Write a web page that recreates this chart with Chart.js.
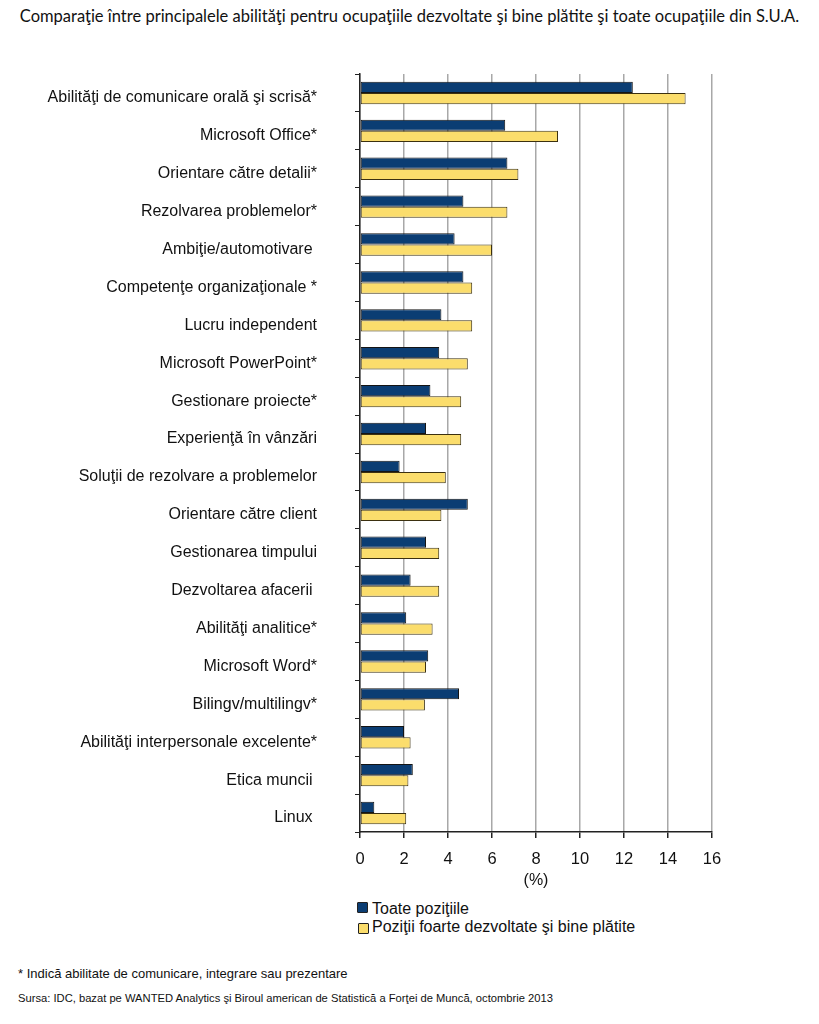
<!DOCTYPE html>
<html lang="ro">
<head>
<meta charset="utf-8">
<title>Abilităţi</title>
<script src="https://cdn.jsdelivr.net/npm/chart.js@4"></script>
<style>
    html, body { margin: 0; padding: 0; background: #fff; }
    body { width: 819px; height: 1024px; position: relative; overflow: hidden; font-family: "Liberation Sans", Arial, sans-serif; color: #111; }
    #title { position: absolute; left: 0; width: 819px; top: 6px; text-align: center; font-family: Lato, "Open Sans", sans-serif; font-size: 16.5px; color: #111; }
    #chartBox { position: absolute; left: 0; top: 0; width: 819px; height: 900px; }
    .legend-row { position: absolute; font-size: 16px; white-space: nowrap; }
    .swatch { position: absolute; width: 9px; height: 9px; border: 1px solid #222; border-radius: 1px; }
    .note { position: absolute; left: 18px; white-space: nowrap; }
</style>
</head>
<body>
<div id="title">Comparaţie între principalele abilităţi pentru ocupaţiile dezvoltate şi bine plătite şi toate ocupaţiile din S.U.A.</div>
<div id="chartBox"><canvas id="skillsChart" width="819" height="900"></canvas></div>

<div class="swatch" style="left:357px; top:902px; background:#0b3d73;"></div>
<div class="legend-row" style="left:372px; top:900px;">Toate poziţiile</div>
<div class="swatch" style="left:358px; top:923px; background:#fbdd6c;"></div>
<div class="legend-row" style="left:372px; top:918px;">Poziţii foarte dezvoltate şi bine plătite</div>

<div class="note" style="top:966px; font-size:13px;">* Indică abilitate de comunicare, integrare sau prezentare</div>
<div class="note" style="top:992px; font-size:11.2px;">Sursa: IDC, bazat pe WANTED Analytics şi Biroul american de Statistică a Forţei de Muncă, octombrie 2013</div>

<script>
// Data
const skills = [
    'Abilităţi de comunicare orală şi scrisă*',
    'Microsoft Office*',
    'Orientare către detalii*',
    'Rezolvarea problemelor*',
    'Ambiţie/automotivare ',
    'Competenţe organizaţionale *',
    'Lucru independent',
    'Microsoft PowerPoint*',
    'Gestionare proiecte*',
    'Experienţă în vânzări',
    'Soluţii de rezolvare a problemelor',
    'Orientare către client',
    'Gestionarea timpului',
    'Dezvoltarea afacerii ',
    'Abilităţi analitice*',
    'Microsoft Word*',
    'Bilingv/multilingv*',
    'Abilităţi interpersonale excelente*',
    'Etica muncii ',
    'Linux '
];
const allPositions = [12.4, 6.6, 6.7, 4.7, 4.3, 4.7, 3.7, 3.6, 3.2, 3.0, 1.8, 4.9, 3.0, 2.3, 2.1, 3.1, 4.5, 2.0, 2.4, 0.65];
const highPaid     = [14.8, 9.0, 7.2, 6.7, 6.0, 5.1, 5.1, 4.9, 4.6, 4.6, 3.9, 3.7, 3.6, 3.6, 3.3, 3.0, 2.95, 2.3, 2.2, 2.1];
const xTicks = [0, 2, 4, 6, 8, 10, 12, 14, 16];

// Chart
const labelFont = { family: '"Liberation Sans", Arial, sans-serif', size: 16 };

new Chart(document.getElementById('skillsChart'), {
    type: 'bar',
    data: {
        labels: skills,
        datasets: [
            {
                label: 'Toate poziţiile',
                data: allPositions,
                backgroundColor: '#0b3d73',
                borderColor: '#141414',
                borderWidth: 1,
                borderSkipped: false
            },
            {
                label: 'Poziţii foarte dezvoltate şi bine plătite',
                data: highPaid,
                backgroundColor: '#fbdd6c',
                borderColor: '#3b3010',
                borderWidth: 1,
                borderSkipped: false
            }
        ]
    },
    options: {
        indexAxis: 'y',
        responsive: false,
        animation: false,
        layout: { padding: { top: 74, right: 107, left: 0, bottom: 0 } },
        categoryPercentage: 0.59,
        barPercentage: 1.0,
        plugins: {
            legend: { display: false },
            tooltip: { enabled: false }
        },
        scales: {
            x: {
                min: 0,
                max: 16,
                afterBuildTicks: axis => { axis.ticks = xTicks.map(v => ({ value: v })); },
                afterFit: axis => { axis.height = 68; },
                grid: { color: '#a8a8a8', lineWidth: 1.5, tickColor: '#222', tickLength: 6 },
                border: { color: '#222', width: 1.5 },
                ticks: { color: '#111', font: { ...labelFont, size: 16.5 }, padding: 12 },
                title: { display: true, text: '(%)', color: '#111', font: labelFont, padding: { top: 0, bottom: 10 } }
            },
            y: {
                afterFit: axis => { axis.width = 360; },
                grid: { drawOnChartArea: false, color: '#222', tickLength: 5, offset: true },
                border: { color: '#222', width: 1.5 },
                ticks: { color: '#111', font: labelFont, padding: 38, labelOffset: 5, autoSkip: false }
            }
        }
    }
});
</script>
</body>
</html>
